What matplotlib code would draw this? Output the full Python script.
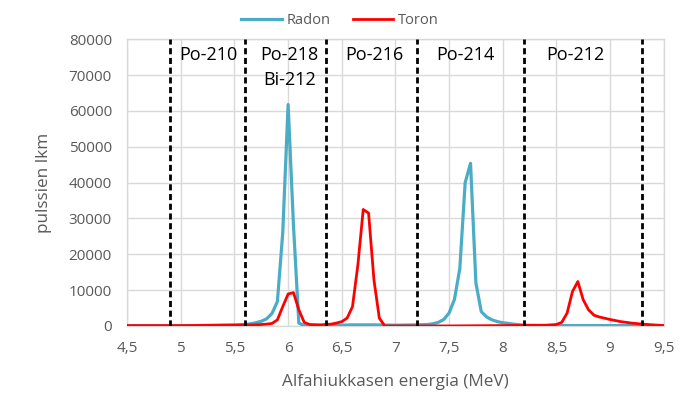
import matplotlib
matplotlib.use("Agg")
import matplotlib.pyplot as plt

# Radon series (energy MeV, pulses)
radon_e = [4.5, 5.0, 5.3, 5.5, 5.6, 5.65, 5.7, 5.75, 5.8, 5.85, 5.9, 5.95, 6.0, 6.05, 6.1, 6.15,
           6.3, 6.5, 6.6, 6.8, 7.0, 7.2, 7.3, 7.35, 7.4, 7.45, 7.5, 7.55, 7.6, 7.65, 7.7,
           7.75, 7.8, 7.85, 7.9, 7.95, 8.0, 8.1, 8.2, 8.4, 9.0, 9.5]
radon_y = [0, 0, 200, 300, 400, 600, 900, 1300, 2000, 3500, 6800, 26000, 61800, 28000, 800, 100,
           100, 200, 300, 300, 200, 300, 400, 600, 1000, 1800, 3600, 7400, 16000, 40000, 45400,
           12000, 4000, 2500, 1700, 1200, 900, 500, 200, 100, 100, 100]

# Toron series
toron_e = [4.5, 5.0, 5.5, 5.7, 5.8, 5.85, 5.9, 5.95, 6.0, 6.05, 6.1, 6.15, 6.2, 6.3, 6.4,
           6.45, 6.5, 6.55, 6.6, 6.65, 6.7, 6.75, 6.8, 6.85, 6.9, 7.0, 7.5, 8.0, 8.4, 8.5,
           8.55, 8.6, 8.65, 8.7, 8.75, 8.8, 8.85, 8.9, 9.0, 9.1, 9.2, 9.3, 9.4, 9.5]
toron_y = [100, 100, 200, 300, 500, 700, 1700, 5400, 8900, 9300, 4500, 1000, 400, 300, 500,
           800, 1200, 2200, 5400, 17000, 32500, 31500, 12800, 2200, 0, 0, 0, 100, 200, 400,
           1000, 3600, 9600, 12400, 7300, 4500, 3000, 2500, 1800, 1200, 800, 500, 300, 100]

region_bounds = [4.9, 5.6, 6.35, 7.2, 8.2, 9.3]
region_labels = ["Po-210", "Po-218\nBi-212", "Po-216", "Po-214", "Po-212"]
region_label_x = [5.26, 6.01, 6.80, 7.65, 8.68]

xticks = [4.5, 5, 5.5, 6, 6.5, 7, 7.5, 8, 8.5, 9, 9.5]
xtick_labels = ["4,5", "5", "5,5", "6", "6,5", "7", "7,5", "8", "8,5", "9", "9,5"]
yticks = [0, 10000, 20000, 30000, 40000, 50000, 60000, 70000, 80000]

plt.rcParams['font.family'] = ['Open Sans', 'DejaVu Sans']

fig = plt.figure(figsize=(6.8, 3.97), dpi=100)
ax = fig.add_axes([0.187, 0.179, 0.789, 0.722])

ax.plot(radon_e, radon_y, color="#4BACC6", lw=2.3, label="Radon", zorder=3)
ax.plot(toron_e, toron_y, color="#FF0000", lw=2.0, label="Toron", zorder=4)

for b in region_bounds:
    ax.axvline(b, color="black", lw=2.0, linestyle=(0, (2.2, 1.3)), zorder=5)

for lx, lab in zip(region_label_x, region_labels):
    ax.text(lx, 78000, lab, ha="center", va="top", fontsize=13, color="black",
            linespacing=1.45, zorder=6)

ax.set_xlim(4.5, 9.5)
ax.set_ylim(0, 80000)
ax.set_xticks(xticks)
ax.set_xticklabels(xtick_labels)
ax.set_yticks(yticks)
ax.set_yticklabels([str(v) for v in yticks])
ax.tick_params(length=0, labelsize=11, labelcolor="#595959")
ax.tick_params(axis="x", pad=11)
ax.tick_params(axis="y", pad=11)
ax.grid(True, color="#D9D9D9", lw=1.0)
ax.set_axisbelow(True)
for s in ax.spines.values():
    s.set_color("#D9D9D9")
    s.set_linewidth(1.0)

ax.set_xlabel("Alfahiukkasen energia (MeV)", fontsize=12.3, color="#595959", labelpad=13)
ax.set_ylabel("pulssien lkm", fontsize=12.3, color="#595959", labelpad=12)

fig.legend(loc="upper center", bbox_to_anchor=(0.5, 1.0), ncol=2, frameon=False,
           fontsize=10.5, labelcolor="#595959", handlelength=2.8, columnspacing=1.5,
           handletextpad=0.3)

fig.savefig("out.png", dpi=100)
